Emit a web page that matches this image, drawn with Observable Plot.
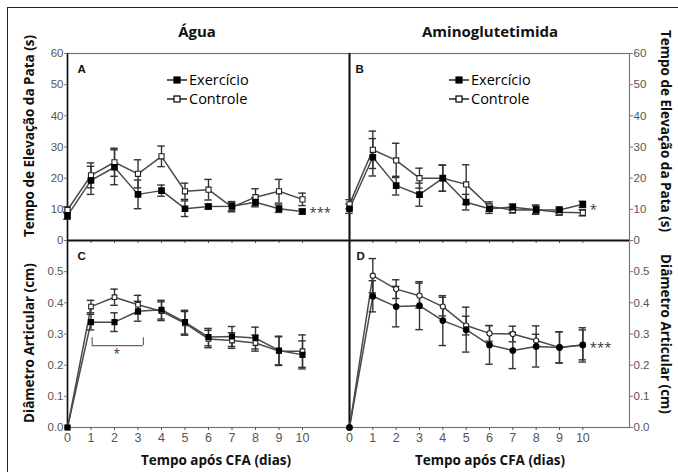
<!DOCTYPE html>
<html>
<head>
<meta charset="utf-8">
<script src="https://cdn.jsdelivr.net/npm/d3@7"></script>
<script src="https://cdn.jsdelivr.net/npm/@observablehq/plot@0.6"></script>
<style>
  body { margin: 0; background: #fff; }
  #fig { position: relative; width: 678px; height: 472px; overflow: hidden; background: #fff; font-family: "Open Sans", "Noto Sans", sans-serif; }
  .frame { position: absolute; left: 7px; top: 7px; width: 720px; height: 520px; border-left: 1.5px solid #222; border-top: 1.5px solid #222; box-sizing: border-box; }
  .panel { position: absolute; }
  .t { position: absolute; font-weight: bold; white-space: nowrap; color: #111; transform: translate(-50%, -50%); }
  .vl { transform: translate(-50%, -50%) rotate(-90deg); }
  .vr { transform: translate(-50%, -50%) rotate(90deg); }
</style>
</head>
<body>
<div id="fig">
  <div class="frame"></div>
  <div id="pA" class="panel" style="left:0px;top:0px"></div>
  <div id="pB" class="panel" style="left:349px;top:0px"></div>
  <div id="pC" class="panel" style="left:0px;top:240px"></div>
  <div id="pD" class="panel" style="left:349px;top:240px"></div>
  <div class="t" style="left:197px;top:31px;font-size:15px">Água</div>
  <div class="t" style="left:490px;top:31px;font-size:15px">Aminoglutetimida</div>
  <div class="t vl" style="left:29px;top:136px;font-size:13.5px">Tempo de Elevação da Pata (s)</div>
  <div class="t vl" style="left:29px;top:343px;font-size:13.5px">Diâmetro Articular (cm)</div>
  <div class="t vr" style="left:666px;top:131px;font-size:13.5px">Tempo de Elevação da Pata (s)</div>
  <div class="t vr" style="left:666px;top:334px;font-size:13.5px">Diâmetro Articular (cm)</div>
  <div class="t" style="left:216px;top:460px;font-size:13.5px">Tempo após CFA (dias)</div>
  <div class="t" style="left:490px;top:460px;font-size:13.5px">Tempo após CFA (dias)</div>
</div>
<script>
// ---------- DATA ----------
const days = [0, 1, 2, 3, 4, 5, 6, 7, 8, 9, 10];
const seriesNames = ["Exercício", "Controle"];

// Panel A – Água, Tempo de Elevação da Pata (s)
const aExMean = [8.0, 19.3, 23.5, 14.8, 16.0, 10.2, 10.9, 11.0, 12.3, 10.2, 9.3];
const aExErr  = [1.2, 4.5, 5.6, 4.6, 1.8, 2.5, 0.8, 1.5, 1.5, 1.2, 0.8];
const aCtMean = [9.8, 20.9, 25.1, 21.4, 27.0, 15.8, 16.3, 10.7, 13.9, 15.8, 13.2];
const aCtErr  = [1.0, 4.0, 4.5, 4.5, 3.3, 2.6, 3.3, 1.5, 2.7, 3.8, 2.0];

// Panel B – Aminoglutetimida, Tempo de Elevação da Pata (s)
const bExMean = [10.2, 26.7, 17.6, 14.7, 20.0, 12.3, 10.2, 10.7, 9.9, 9.8, 11.6];
const bExErr  = [1.5, 6.0, 3.0, 3.7, 4.2, 2.5, 1.5, 1.0, 1.2, 1.0, 1.0];
const bCtMean = [11.6, 29.1, 25.7, 20.0, 20.0, 18.0, 10.9, 9.8, 9.9, 9.1, 8.9];
const bCtErr  = [1.5, 6.0, 5.5, 3.2, 4.2, 6.3, 1.5, 1.0, 1.5, 1.0, 1.0];

// Panel C – Água, Diâmetro Articular (cm)
const cExMean = [0, 0.338, 0.338, 0.373, 0.378, 0.338, 0.290, 0.292, 0.287, 0.247, 0.233];
const cExErr  = [0, 0.025, 0.030, 0.032, 0.030, 0.038, 0.028, 0.032, 0.035, 0.046, 0.045];
const cCtMean = [0, 0.388, 0.418, 0.394, 0.373, 0.334, 0.284, 0.279, 0.271, 0.245, 0.245];
const cCtErr  = [0, 0.020, 0.026, 0.030, 0.030, 0.038, 0.028, 0.025, 0.026, 0.046, 0.052];

// Panel D – Aminoglutetimida, Diâmetro Articular (cm)
const dExMean = [0, 0.421, 0.388, 0.391, 0.343, 0.314, 0.265, 0.247, 0.260, 0.257, 0.265];
const dExErr  = [0, 0.050, 0.065, 0.077, 0.080, 0.072, 0.062, 0.058, 0.066, 0.050, 0.055];
const dCtMean = [0, 0.487, 0.444, 0.423, 0.388, 0.327, 0.302, 0.300, 0.279, 0.257, 0.265];
const dCtErr  = [0, 0.055, 0.030, 0.040, 0.030, 0.030, 0.025, 0.025, 0.020, 0.050, 0.048];

// Ticks
const xTicks = [0, 1, 2, 3, 4, 5, 6, 7, 8, 9, 10];
const timeTicks = [0, 10, 20, 30, 40, 50, 60];
const diamTicks = [0, 0.1, 0.2, 0.3, 0.4, 0.5];

// Annotations
const starsA = [{ day: 10, value: 10.0, text: "***" }];
const starsB = [{ day: 10, value: 10.7, text: "*" }];
const starsD = [{ day: 10, value: 0.266, text: "***" }];
const bracketC = { from: 1.05, to: 3.23, level: 0.263, top: 0.288, star: 0.247, starDay: 2.1 };

// ---------- HELPERS ----------
function rows(mean, err) {
  return days.map((d, i) => ({ day: d, v: mean[i], lo: mean[i] - err[i], hi: mean[i] + err[i], e: err[i] }));
}

function legendMark() {
  return (index, scales, values, dims) => {
    const g = d3.create("svg:g").attr("text-anchor", "start");
    const x0 = dims.marginLeft + 100, y0 = dims.marginTop + 27;
    seriesNames.forEach((name, i) => {
      const y = y0 + i * 19;
      g.append("line").attr("x1", x0).attr("x2", x0 + 20).attr("y1", y).attr("y2", y)
        .attr("stroke", "#222").attr("stroke-width", 1.5);
      g.append("rect").attr("x", x0 + 7).attr("y", y - 3).attr("width", 6).attr("height", 6)
        .attr("fill", i === 0 ? "#000" : "#fff").attr("stroke", "#000").attr("stroke-width", 1.2);
      g.append("text").attr("x", x0 + 22).attr("y", y).attr("dy", "0.36em").attr("text-anchor", "start")
        .attr("font-size", 14.5).attr("font-family", "'Open Sans', sans-serif").attr("fill", "#000").text(name);
    });
    return g.node();
  };
}

function panel(opts) {
  const ex = rows(opts.exMean, opts.exErr);
  const ct = rows(opts.ctMean, opts.ctErr);
  const capW = 0.16;
  const sym = opts.symbol;
  const r = opts.r;
  const marks = [];
  // frame edges
  marks.push(Plot.frame({ stroke: "#777", strokeWidth: 1.2 }));
  for (const xv of opts.blackX) marks.push(Plot.ruleX([xv], { stroke: "#111", strokeWidth: 1.6 }));
  for (const yv of opts.blackY) marks.push(Plot.ruleY([yv], { stroke: "#111", strokeWidth: 1.6 }));
  // axes
  marks.push(Plot.axisY({
    anchor: opts.yAnchor, ticks: opts.yTicks, tickSize: 3, tickPadding: 1,
    tickFormat: opts.yFormat, fontSize: 11.5, fill: "#555", stroke: "#777", label: null,
    fontFamily: "'Liberation Sans', Arial, sans-serif"
  }));
  marks.push(Plot.axisX({
    anchor: "bottom", ticks: xTicks, tickSize: 3, tickPadding: 3,
    tickFormat: opts.xLabels ? d3.format("d") : () => "", fontSize: 12.5, fill: "#555", stroke: "#555",
    label: null, fontFamily: "'Liberation Sans', Arial, sans-serif"
  }));
  // series
  for (const [data, fill] of [[ct, "#fff"], [ex, "#000"]]) {
    marks.push(Plot.line(data, { x: "day", y: "v", stroke: "#4a4a4a", strokeWidth: 1.5 }));
    const eb = data.filter(d => d.e > 0);
    marks.push(Plot.ruleX(eb, { x: "day", y1: "lo", y2: "hi", stroke: "#333", strokeWidth: 1.4 }));
    marks.push(Plot.ruleY(eb, { y: "lo", x1: d => d.day - capW, x2: d => d.day + capW, stroke: "#333", strokeWidth: 1.4 }));
    marks.push(Plot.ruleY(eb, { y: "hi", x1: d => d.day - capW, x2: d => d.day + capW, stroke: "#333", strokeWidth: 1.4 }));
  }
  marks.push(Plot.dot(ct, { x: "day", y: "v", symbol: sym, r, fill: "#fff", stroke: "#222", strokeWidth: 1.1 }));
  marks.push(Plot.dot(ex, { x: "day", y: "v", symbol: sym, r, fill: "#000", stroke: "#000" }));
  // annotations
  if (opts.stars) marks.push(Plot.text(opts.stars, {
    x: "day", y: "value", text: "text", dx: 7, dy: 3, textAnchor: "start", lineAnchor: "middle",
    fontSize: 13, fill: "#333", fontFamily: "'Open Sans', sans-serif"
  }));
  if (opts.bracket) {
    const b = opts.bracket;
    marks.push(Plot.ruleY([b.level], { x1: b.from, x2: b.to, stroke: "#666", strokeWidth: 1.2 }));
    marks.push(Plot.ruleX([b.from, b.to], { y1: b.level, y2: b.top, stroke: "#666", strokeWidth: 1.2 }));
    marks.push(Plot.text(["*"], { x: b.starDay, y: b.star, dy: 4, fontSize: 12, fill: "#333", lineAnchor: "middle" }));
  }
  marks.push(Plot.text([opts.letter], {
    frameAnchor: "top-left", dx: opts.letterDx, dy: 11, fontWeight: "bold", fontSize: 11.5,
    fill: "#111", fontFamily: "'Liberation Sans', Arial, sans-serif"
  }));
  if (opts.legend) marks.push(legendMark());

  return Plot.plot({
    width: opts.width, height: opts.height,
    marginLeft: opts.ml, marginRight: opts.mr, marginTop: opts.mt, marginBottom: opts.mb,
    x: { domain: [0, 12], axis: null },
    y: { domain: opts.yDomain, axis: null },
    style: { background: "transparent", overflow: "visible", fontFamily: "'Open Sans', sans-serif" },
    marks
  });
}

const fmt1 = d3.format(".1f");

document.getElementById("pA").append(panel({
  exMean: aExMean, exErr: aExErr, ctMean: aCtMean, ctErr: aCtErr,
  yDomain: [0, 60], yTicks: timeTicks, yFormat: d3.format("d"), yAnchor: "left",
  width: 349, height: 240, ml: 67, mr: 0, mt: 53, mb: 0,
  blackX: [0, 12], blackY: [0], xLabels: false, symbol: "square", r: 2.9,
  letter: "A", letterDx: 10, legend: true, stars: starsA
}));
document.getElementById("pB").append(panel({
  exMean: bExMean, exErr: bExErr, ctMean: bCtMean, ctErr: bCtErr,
  yDomain: [0, 60], yTicks: timeTicks, yFormat: d3.format("d"), yAnchor: "right",
  width: 329, height: 240, ml: 0, mr: 49, mt: 53, mb: 0,
  blackX: [0], blackY: [0], xLabels: false, symbol: "square", r: 2.9,
  letter: "B", letterDx: 6, legend: true, stars: starsB
}));
document.getElementById("pC").append(panel({
  exMean: cExMean, exErr: cExErr, ctMean: cCtMean, ctErr: cCtErr,
  yDomain: [0, 0.6], yTicks: diamTicks, yFormat: fmt1, yAnchor: "left",
  width: 349, height: 232, ml: 67, mr: 0, mt: 0, mb: 45,
  blackX: [0, 12], blackY: [0.6], xLabels: true, symbol: "square", r: 2.6,
  letter: "C", letterDx: 10, legend: false, bracket: bracketC
}));
document.getElementById("pD").append(panel({
  exMean: dExMean, exErr: dExErr, ctMean: dCtMean, ctErr: dCtErr,
  yDomain: [0, 0.6], yTicks: diamTicks, yFormat: fmt1, yAnchor: "right",
  width: 329, height: 232, ml: 0, mr: 49, mt: 0, mb: 45,
  blackX: [0], blackY: [0.6], xLabels: true, symbol: "circle", r: 2.6,
  letter: "D", letterDx: 7, legend: false, stars: starsD
}));
</script>
</body>
</html>
